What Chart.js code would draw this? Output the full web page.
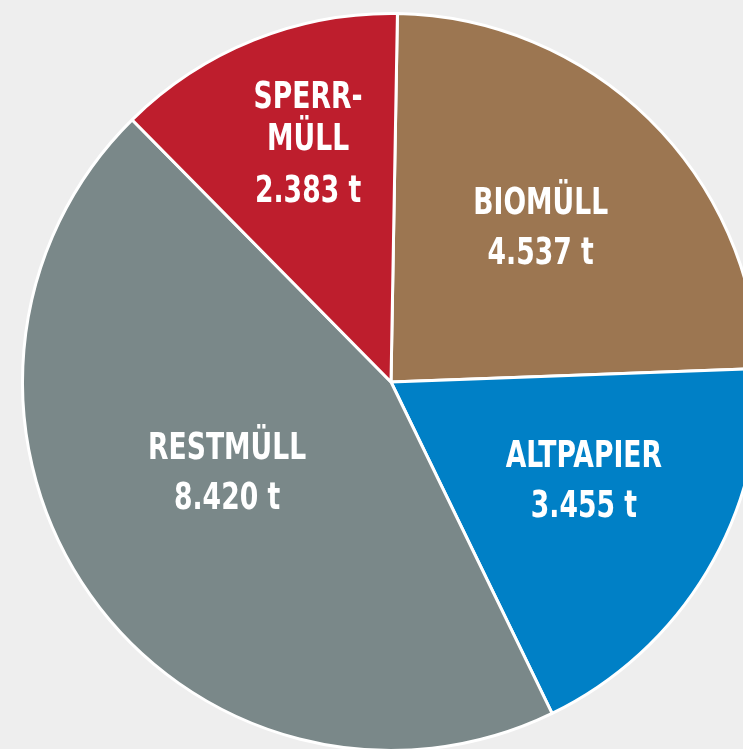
<!DOCTYPE html>
<html>
<head>
<meta charset="utf-8">
<script src="https://cdn.jsdelivr.net/npm/chart.js@4"></script>
<style>
html,body{margin:0;padding:0;background:#eeeeee;overflow:hidden;width:743px;height:749px;}
#wrap{position:absolute;left:1px;top:-8px;width:780px;height:780px;}
</style>
</head>
<body>
<div id="wrap"><canvas id="c" width="780" height="780"></canvas></div>
<script>
const categories = ["BIOMÜLL", "ALTPAPIER", "RESTMÜLL", "SPERRMÜLL"];
const labelLines = [["BIOMÜLL"], ["ALTPAPIER"], ["RESTMÜLL"], ["SPERR-", "MÜLL"]];
const values = [4537, 3455, 8420, 2383];
const valueLabels = ["4.537 t", "3.455 t", "8.420 t", "2.383 t"];
const colors = ["#9c7651", "#0080c6", "#7a8889", "#be1e2d"];

const labelPlugin = {
  id: 'sliceLabels',
  afterDatasetsDraw(chart) {
    const ctx = chart.ctx;
    const meta = chart.getDatasetMeta(0);
    const radFrac = [0.58, 0.59, 0.51, 0.68];
    const angOff = [0, -3.5, 6, 2.5];
    const lineH = 42;
    ctx.save();
    ctx.fillStyle = '#ffffff';
    ctx.textAlign = 'center';
    ctx.textBaseline = 'middle';
    ctx.font = 'bold 37px "Liberation Sans Narrow", "DejaVu Sans Condensed", sans-serif';
    meta.data.forEach((arc, i) => {
      const mid = (arc.startAngle + arc.endAngle) / 2 + angOff[i] * Math.PI / 180;
      const r = arc.outerRadius * radFrac[i];
      const cx = arc.x + Math.cos(mid) * r;
      const cy = arc.y + Math.sin(mid) * r;
      const lines = labelLines[i].concat([valueLabels[i]]);
      const gaps = lines.map((l, k) => k === 0 ? 0 : (k === lines.length - 1 ? (lines.length > 2 ? 52 : 50) : lineH));
      let total = 0; for (let k = 1; k < lines.length; k++) total += gaps[k];
      let y = cy - total / 2;
      lines.forEach((l, k) => {
        if (k > 0) y += gaps[k];
        ctx.save();
        ctx.translate(cx, y);
        ctx.scale(0.8, 1);
        ctx.fillText(l, 0, 0);
        ctx.restore();
      });
    });
    ctx.restore();
  }
};

new Chart(document.getElementById('c'), {
  type: 'pie',
  data: {
    labels: categories,
    datasets: [{
      data: values,
      backgroundColor: colors,
      borderColor: '#ffffff',
      borderWidth: 3
    }]
  },
  options: {
    responsive: false,
    animation: false,
    rotation: 1,
    layout: { padding: 20 },
    plugins: { legend: { display: false }, tooltip: { enabled: false } }
  },
  plugins: [labelPlugin]
});
</script>
</body>
</html>
